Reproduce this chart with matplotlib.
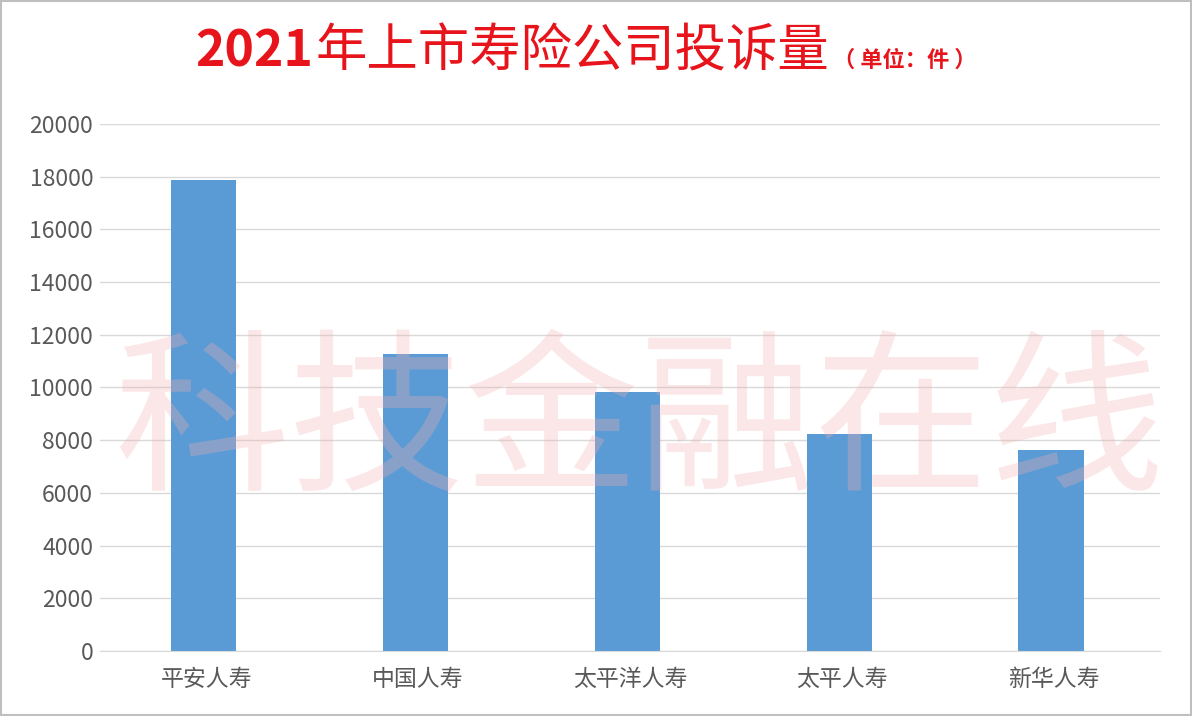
import numpy as np
from matplotlib import pyplot as plt

plt.rcParams['font.family'] = ['Noto Sans CJK SC', 'DejaVu Sans']

# 2021年上市寿险公司投诉量（单位：件）
companies = ['平安人寿', '中国人寿', '太平洋人寿', '太平人寿', '新华人寿']
complaints = [17870, 11270, 9830, 8240, 7630]
y_ticks = [0, 2000, 4000, 6000, 8000, 10000, 12000, 14000, 16000, 18000, 20000]

fig = plt.figure(figsize=(11.92, 7.16), dpi=100)
ax = fig.add_axes([0.084, 0.0908, 0.889, 0.736])

x = np.arange(len(companies))
ax.bar(x - 0.012, complaints, width=0.31, color='#5B9BD5', zorder=2)

ax.set_ylim(0, 20000)
ax.set_xlim(-0.5, len(companies) - 0.5)
ax.set_yticks(y_ticks)
ax.set_yticklabels([str(v) for v in y_ticks])
ax.set_xticks(x)
ax.set_xticklabels(companies)
ax.tick_params(axis='both', length=0, colors='#595959')
ax.tick_params(axis='y', pad=5, labelsize=16.5)
ax.tick_params(axis='x', pad=12, labelsize=16.5)
ax.yaxis.grid(True, color='#D9D9D9', linewidth=1, zorder=0)
for side in ['top', 'right', 'left']:
    ax.spines[side].set_visible(False)
ax.spines['bottom'].set_color('#D9D9D9')

# watermark
fig.text(0.536, 0.405, '科技金融在线', fontsize=126, color='#F4B0B0', alpha=0.3,
         ha='center', va='center', zorder=5)

# title, laid out piece by piece
renderer = fig.canvas.get_renderer()
t1 = fig.text(195 / 1192, 1 - 52 / 716, '2021', fontsize=36, fontweight='bold',
              color='#E8141B', ha='left', va='center')
x1 = t1.get_window_extent(renderer).x1 / fig.bbox.width
t2 = fig.text(x1 + 0.002, 1 - 52 / 716, '年上市寿险公司投诉量', fontsize=37,
              fontweight='medium', color='#E8141B', ha='left', va='center')
x2 = t2.get_window_extent(renderer).x1 / fig.bbox.width
fig.text(x2 + 0.003, 1 - 60 / 716, '（ 单位：件 ）', fontsize=16, fontweight='bold',
         color='#E8141B', ha='left', va='center')

# thin frame round the picture
fig.patches.append(plt.Rectangle((0.001, 0.001), 0.998, 0.998, transform=fig.transFigure,
                                 fill=False, edgecolor='#BFBFBF', linewidth=1.5))

fig.savefig('out.png', dpi=100)
